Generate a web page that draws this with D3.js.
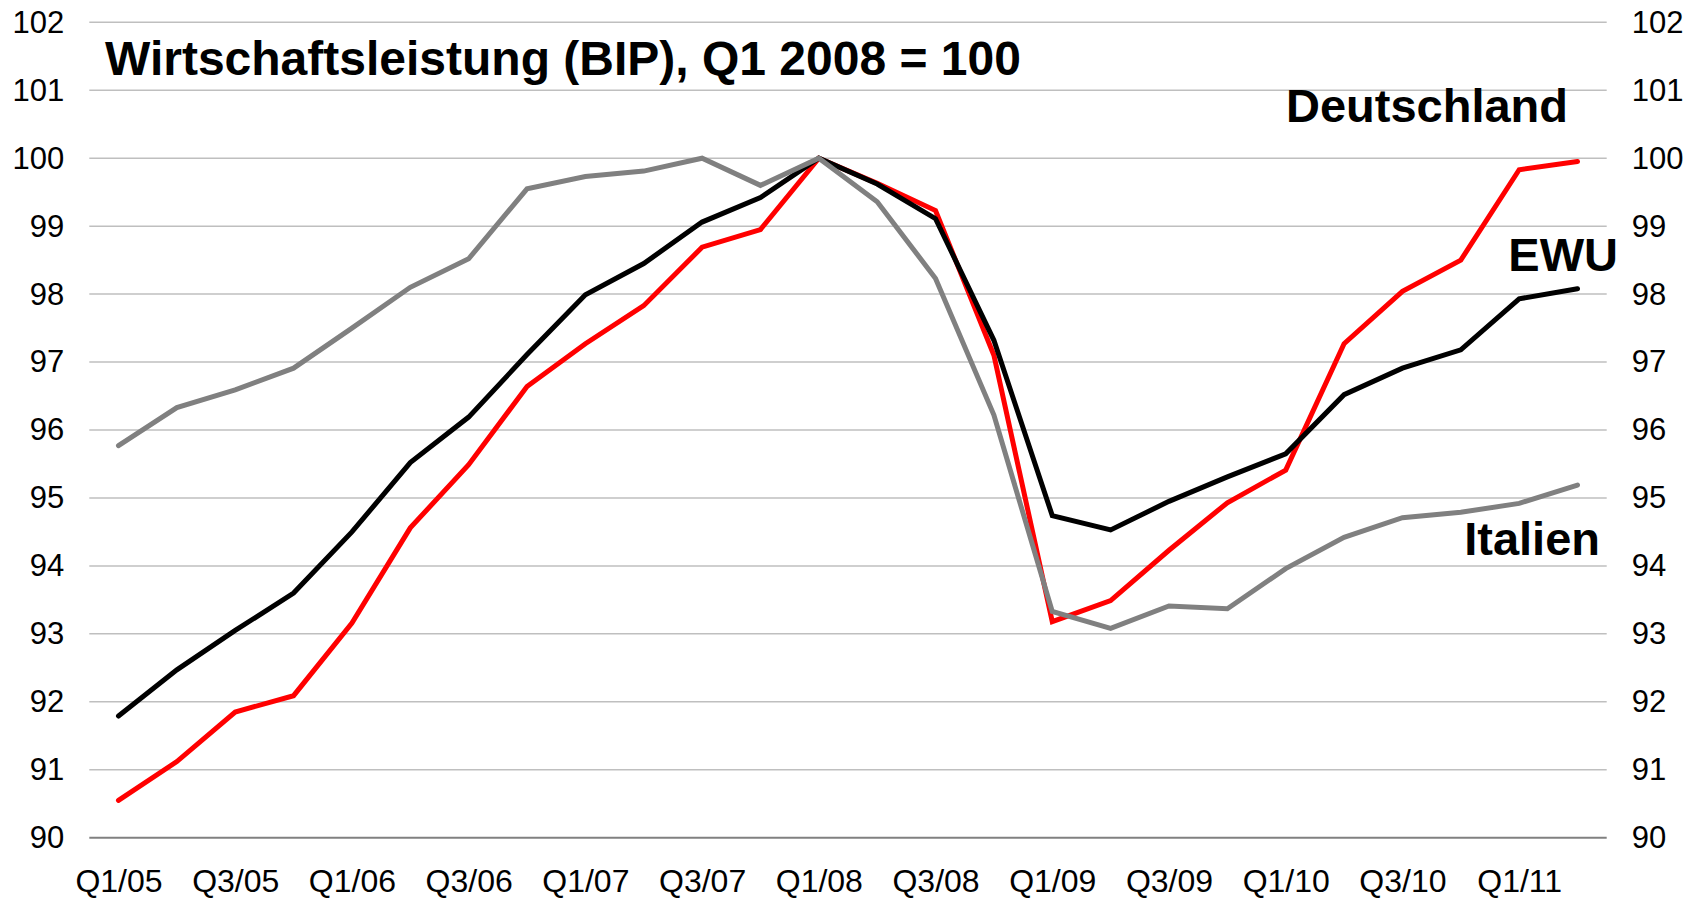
<!DOCTYPE html>
<html>
<head>
<meta charset="utf-8">
<script src="https://cdn.jsdelivr.net/npm/d3@7"></script>
<style>
  body { margin: 0; background: #fff; }
  svg { display: block; font-family: 'Liberation Sans', Arial, sans-serif; }
  .tick text { fill: #000; }
</style>
</head>
<body>
<div id="chart"></div>
<script>
var quarters = ['Q1/05', 'Q2/05', 'Q3/05', 'Q4/05', 'Q1/06', 'Q2/06', 'Q3/06', 'Q4/06',
	'Q1/07', 'Q2/07', 'Q3/07', 'Q4/07', 'Q1/08', 'Q2/08', 'Q3/08', 'Q4/08',
	'Q1/09', 'Q2/09', 'Q3/09', 'Q4/09', 'Q1/10', 'Q2/10', 'Q3/10', 'Q4/10',
	'Q1/11', 'Q2/11'];

var deutschland = [90.55, 91.12, 91.85, 92.09, 93.16, 94.56, 95.49, 96.64,
	97.27, 97.83, 98.69, 98.95, 100, 99.63, 99.23, 97.10,
	93.18, 93.49, 94.23, 94.93, 95.41, 97.27, 98.04, 98.50,
	99.83, 99.95];

var ewu = [91.79, 92.47, 93.05, 93.60, 94.50, 95.52, 96.19, 97.11,
	97.99, 98.45, 99.06, 99.42, 100, 99.62, 99.11, 97.32,
	94.74, 94.53, 94.95, 95.31, 95.65, 96.52, 96.91, 97.18,
	97.93, 98.08];

var italien = [95.77, 96.33, 96.59, 96.91, 97.50, 98.10, 98.52, 99.55,
	99.73, 99.81, 100.0, 99.60, 100, 99.36, 98.23, 96.22,
	93.33, 93.08, 93.41, 93.37, 93.96, 94.42, 94.71, 94.79,
	94.92, 95.19];

var yTicks = [90, 91, 92, 93, 94, 95, 96, 97, 98, 99, 100, 101, 102];
var xTickLabels = quarters.filter((q, i) => i % 2 === 0);

var width = 1699;
var height = 900;
var plotLeft = 89.3, plotRight = 1606.7, plotTop = 22.3, plotBottom = 837.7;

/* Scales */
var xScale = d3.scalePoint()
	.domain(quarters)
	.range([plotLeft, plotRight])
	.padding(0.5);

var yScale = d3.scaleLinear()
	.domain([90, 102])
	.range([plotBottom, plotTop]);

var svg = d3.select('#chart')
	.append('svg')
	.attr('width', width)
	.attr('height', height);

/* gridlines */
svg.append('g')
	.attr('class', 'grid')
	.selectAll('line')
	.data(yTicks.filter(d => d !== 90))
	.enter()
	.append('line')
	.attr('x1', plotLeft)
	.attr('x2', plotRight)
	.attr('y1', d => yScale(d))
	.attr('y2', d => yScale(d))
	.attr('stroke', '#bfbfbf')
	.attr('stroke-width', 1.5);

/* axes */
var yLeft = d3.axisLeft(yScale).tickValues(yTicks).tickSize(0).tickPadding(25);
var yRight = d3.axisRight(yScale).tickValues(yTicks).tickSize(0).tickPadding(25);

svg.append('g')
	.attr('transform', `translate(${plotLeft},0)`)
	.call(yLeft)
	.call(g => g.select('.domain').remove())
	.selectAll('text')
	.style('font-size', '31px');

svg.append('g')
	.attr('transform', `translate(${plotRight},0)`)
	.call(yRight)
	.call(g => g.select('.domain').remove())
	.selectAll('text')
	.style('font-size', '31px');

var xAxis = d3.axisBottom(xScale).tickValues(xTickLabels).tickSize(0).tickPadding(32);

svg.append('g')
	.attr('transform', `translate(0,${plotBottom})`)
	.call(xAxis)
	.call(g => g.select('.domain')
		.attr('d', `M${plotLeft},0H${plotRight}`)
		.attr('stroke', '#808080')
		.attr('stroke-width', 2))
	.selectAll('text')
	.style('font-size', '32px');

/* lines */
var line = d3.line()
	.x((d, i) => xScale(quarters[i]))
	.y(d => yScale(d));

var series = [
	{ name: 'Deutschland', values: deutschland, color: '#ff0000' },
	{ name: 'EWU', values: ewu, color: '#000000' },
	{ name: 'Italien', values: italien, color: '#808080' }
];

svg.append('g')
	.attr('class', 'lines')
	.selectAll('path')
	.data(series)
	.enter()
	.append('path')
	.attr('d', d => line(d.values))
	.attr('fill', 'none')
	.attr('stroke', d => d.color)
	.attr('stroke-width', 5)
	.attr('stroke-linecap', 'round');

/* title and labels */
svg.append('text')
	.attr('x', 105)
	.attr('y', 75)
	.style('font-size', '48px')
	.style('font-weight', 'bold')
	.text('Wirtschaftsleistung (BIP), Q1 2008 = 100');

var labels = [
	{ text: 'Deutschland', x: 1568, y: 122 },
	{ text: 'EWU', x: 1618, y: 271 },
	{ text: 'Italien', x: 1600, y: 555 }
];

svg.append('g')
	.selectAll('text')
	.data(labels)
	.enter()
	.append('text')
	.attr('x', d => d.x)
	.attr('y', d => d.y)
	.attr('text-anchor', 'end')
	.style('font-size', '47px')
	.style('font-weight', 'bold')
	.text(d => d.text);
</script>
</body>
</html>
